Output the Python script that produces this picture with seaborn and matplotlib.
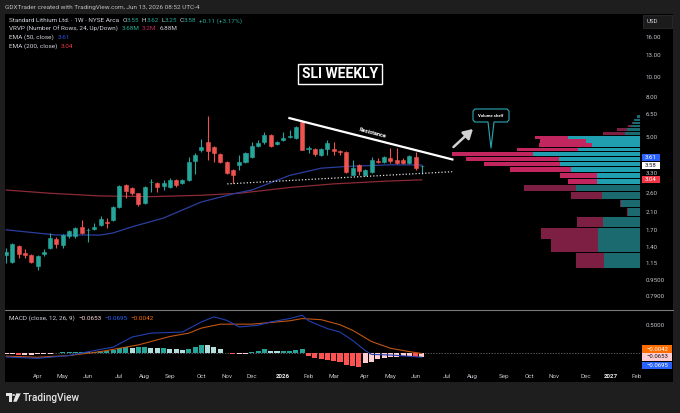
import numpy as np
import pandas as pd
import matplotlib
matplotlib.use("Agg")
import matplotlib.pyplot as plt
from matplotlib.patches import Rectangle, Polygon, Circle
from matplotlib.ticker import NullLocator
import seaborn as sns

# ---------------- data ----------------
first_week = "2025-03-03"          # weekly candles, Monday of each week
opens = [1.27, 1.17, 1.41, 1.30, 1.27, 1.12, 1.28, 1.38, 1.53, 1.42, 1.58, 1.58, 1.76, 1.69,
         1.72, 1.80, 1.86, 1.91, 2.22, 2.86, 2.76, 2.60, 2.32, 2.95, 2.93, 2.83, 2.79, 3.04,
         2.93, 3.04, 3.79, 4.31, 4.72, 4.46, 4.11, 3.75, 3.42, 3.62, 3.75, 3.97, 4.51, 4.72,
         5.12, 4.61, 4.83, 5.00, 4.94, 5.95, 4.34, 4.36, 4.07, 4.36, 4.36, 4.26, 4.21, 3.22,
         3.62, 3.22, 3.34, 3.79, 3.75, 3.93, 3.84, 3.84, 3.71, 3.97, 3.55]
highs = [1.38, 1.46, 1.43, 1.36, 1.29, 1.27, 1.36, 1.64, 1.56, 1.62, 1.70, 1.76, 1.91, 1.74,
         1.84, 1.99, 1.95, 2.25, 2.86, 2.90, 2.80, 2.62, 2.82, 3.08, 2.95, 3.04, 3.10, 3.08,
         3.08, 3.97, 4.15, 4.89, 6.38, 4.50, 4.16, 3.79, 3.46, 4.05, 4.21, 4.72, 4.83, 5.30,
         5.15, 4.80, 5.30, 5.43, 5.70, 6.00, 4.50, 4.40, 4.40, 4.83, 4.72, 4.30, 4.25, 3.84,
         3.66, 3.46, 3.97, 3.93, 4.02, 4.41, 4.41, 3.90, 4.07, 4.21, 3.62]
lows = [1.16, 1.15, 1.22, 1.22, 1.15, 1.07, 1.26, 1.36, 1.38, 1.38, 1.55, 1.55, 1.62, 1.48,
        1.70, 1.78, 1.74, 1.89, 2.20, 2.46, 2.55, 2.24, 2.30, 2.64, 2.64, 2.70, 2.76, 2.80,
        2.88, 3.00, 3.26, 4.20, 3.84, 3.75, 3.70, 3.26, 2.93, 3.42, 3.70, 3.93, 4.46, 4.60,
        4.46, 4.56, 4.80, 4.95, 4.90, 4.28, 4.16, 4.02, 4.02, 4.07, 4.07, 4.07, 3.30, 3.20,
        3.22, 3.18, 3.30, 3.71, 3.70, 3.71, 3.66, 3.66, 3.66, 3.42, 3.25]
closes = [1.31, 1.44, 1.28, 1.27, 1.17, 1.25, 1.31, 1.55, 1.44, 1.60, 1.68, 1.74, 1.64, 1.70,
          1.76, 1.93, 1.83, 2.22, 2.83, 2.66, 2.60, 2.29, 2.79, 2.97, 2.79, 2.93, 3.04, 2.86,
          3.04, 3.75, 4.07, 4.46, 4.26, 4.16, 3.75, 3.30, 3.22, 3.75, 4.16, 4.51, 4.67, 5.12,
          4.51, 4.72, 4.94, 5.06, 5.62, 4.31, 4.38, 4.11, 4.36, 4.67, 4.26, 4.21, 3.34, 3.50,
          3.38, 3.42, 3.84, 3.75, 3.97, 3.79, 3.71, 3.71, 4.02, 3.47, 3.58]

ema50_week = [0, 8, 15, 17, 20, 25, 31, 36, 39, 45, 50, 54, 61, 66]
ema50_value = [1.70, 1.60, 1.60, 1.64, 1.76, 1.95, 2.35, 2.58, 2.70, 3.20, 3.48, 3.55, 3.62, 3.61]
ema200_week = [0, 7, 15, 23, 31, 37, 45, 52, 60, 66]
ema200_value = [2.70, 2.60, 2.52, 2.50, 2.54, 2.60, 2.78, 2.90, 2.99, 3.04]

# Visible-range volume profile, 24 rows (relative volume)
profile_low, profile_high = 1.08, 6.456
up_volume = [35.7, 42.3, 41.7, 37.3, 12.3, 19.0, 37.7, 64.3, 43.3, 43.3, 69.0, 80.0,
             80.7, 106.7, 61.7, 48.3, 54.0, 72.3, 15.0, 13.3, 9.3, 7.3, 5.7, 3.0]
down_volume = [28.6, 46.7, 57.6, 25.4, 0.7, 1.0, 31.3, 51.7, 29.0, 36.7, 61.0, 76.0,
               93.3, 81.6, 61.0, 52.4, 46.0, 32.7, 21.7, 10.0, 2.4, 1.0, 0.0, 0.0]
value_area_rows = (8, 17)

# MACD (12, 26, 9)
macd_hist = [-0.02, -0.02, -0.03, -0.03, -0.03, -0.02, -0.02, -0.01,
             0.01, 0.02, 0.02, 0.03, 0.03, 0.03, 0.03, 0.04, 0.05, 0.06,
             0.09, 0.11, 0.10, 0.11, 0.11, 0.10, 0.09, 0.09, 0.08, 0.07, 0.06,
             0.08, 0.12, 0.15, 0.14, 0.12, 0.08, 0.01,
             -0.02, -0.02, -0.01,
             0.02, 0.04, 0.07, 0.05, 0.04, 0.04, 0.05, 0.06, 0.07,
             -0.05, -0.09, -0.11, -0.12, -0.13, -0.15, -0.21, -0.23, -0.24,
             -0.18, -0.15, -0.11, -0.09, -0.07, -0.06, -0.05, -0.05, -0.07, -0.0653]
macd_week = [0, 5, 10, 15, 17, 19, 20, 23, 28, 31, 33, 35, 37, 40, 42, 45, 47, 48,
             51, 53, 55, 57, 58, 61, 66]
macd_value = [-0.066, -0.09, -0.04, 0.07, 0.11, 0.23, 0.29, 0.36, 0.38, 0.56, 0.65, 0.59,
              0.47, 0.50, 0.56, 0.62, 0.68, 0.58, 0.44, 0.38, 0.23, 0.05, -0.02, -0.03, -0.0695]
signal_week = [0, 5, 10, 15, 21, 26, 29, 31, 34, 39, 42, 45, 47, 50, 53, 55, 58, 61, 64, 66]
signal_value = [-0.05, -0.07, -0.04, 0.03, 0.15, 0.30, 0.36, 0.45, 0.52, 0.52, 0.55, 0.58,
                0.62, 0.60, 0.51, 0.41, 0.21, 0.09, 0.03, -0.0042]

price_ticks = [16, 13, 10, 8, 6.5, 5, 4, 3.3, 2.6, 2.1, 1.7, 1.4, 1.15, 0.95, 0.79]

# user drawings (week index, price)
resistance_weeks, resistance_prices = [44.8, 71.0], [6.25, 3.84]
support_weeks, support_prices = [35.1, 70.8], [2.90, 3.34]
arrow_weeks, arrow_prices = [71.0, 74.1], [4.45, 5.49]

# ---------------- style ----------------
sns.set_theme(style="dark")
plt.rcParams["font.family"] = ["Roboto", "DejaVu Sans"]

UP, DN = "#26a69a", "#ef5350"
TXT = "#d1d4dc"
AX_TXT = "#c3c6ce"
FS = 4.6

W, H = 680, 413
fig = plt.figure(figsize=(W / 100, H / 100), dpi=100, facecolor="#1e1e1e")


def fx(x):
    return x / W


def fy(y):
    return 1 - y / H


fig.add_artist(Rectangle((fx(5), fy(382)), (673 - 5) / W, (382 - 14) / H,
                         transform=fig.transFigure, facecolor="black",
                         edgecolor="none", zorder=-1))

n = len(opens)
weeks = np.arange(n)
XL = (-0.16, 100.6)
YL = (0.677, 20.9)

ax = fig.add_axes([fx(5), fy(309), 635 / W, 295 / H])
axm = fig.add_axes([fx(5), fy(370), 635 / W, 59 / H])
for a in (ax, axm):
    a.set_facecolor("none")
    a.grid(False)
    for s in a.spines.values():
        s.set_visible(False)

# ---- candles ----
o, hi, lo, c = map(np.array, (opens, highs, lows, closes))
col = np.where(c >= o, UP, DN)
ax.set_yscale("log")
ax.vlines(weeks, lo, hi, colors=col, lw=0.8, zorder=3)
ax.bar(weeks, np.abs(c - o), bottom=np.minimum(o, c), width=0.64, color=col,
       edgecolor=col, linewidth=0.4, zorder=4)

# ---- EMAs ----
sns.lineplot(x=ema200_week, y=ema200_value, ax=ax, color="#8c2a36", lw=0.9, zorder=2)
sns.lineplot(x=ema50_week, y=ema50_value, ax=ax, color="#2c3f9e", lw=0.9, zorder=2)

# ---- drawings ----
ax.plot(support_weeks, support_prices, color="#e0e0e0", lw=0.9, ls=(0, (1, 1.6)), zorder=5)
ax.plot(resistance_weeks, resistance_prices, color="white", lw=1.6, zorder=5,
        solid_capstyle="butt")
ax.text(58.1, 5.22, "Resistance", rotation=-14.5, rotation_mode="anchor", ha="center",
        va="center", fontsize=4.1, fontweight="bold", color="white", zorder=6)
ax.annotate("", xy=(arrow_weeks[1], arrow_prices[1]), xytext=(arrow_weeks[0], arrow_prices[0]),
            arrowprops=dict(arrowstyle="-|>,head_length=0.55,head_width=0.32",
                            color="#d2d2d2", lw=1.8, shrinkA=0, shrinkB=0,
                            mutation_scale=10), zorder=6)

# ---- volume profile ----
ax2 = ax.twiny()
ax2.set_facecolor("none")
ax2.grid(False)
for s in ax2.spines.values():
    s.set_visible(False)
upv = np.array(up_volume)
tot = upv + np.array(down_volume)
edges = np.linspace(profile_low, profile_high, len(upv) + 1)
b0 = edges[:-1] * np.exp(0.45 / 86)
b1 = edges[1:] * np.exp(-0.45 / 86)
rows = np.arange(len(upv))
inva = (rows >= value_area_rows[0]) & (rows <= value_area_rows[1])
pink = np.where(inva, "#c2265e", "#7c1f43")
teal = np.where(inva, "#1f9fb0", "#1a6a70")
ax2.barh(b0, tot, height=b1 - b0, align="edge", color=pink, linewidth=0)
ax2.barh(b0, upv, height=b1 - b0, align="edge", color=teal, linewidth=0)
ax2.set_xlim(tot.max() / 0.2966, 0)
ax2.xaxis.set_visible(False)

ax.set_xlim(*XL)
ax.set_ylim(*YL)
ax.set_xticks([])
ax.yaxis.tick_right()
ax.yaxis.set_minor_locator(NullLocator())
ax.set_yticks(price_ticks)
ax.set_yticklabels([f"{t:.2f}" if t >= 1 else f"{t:.4f}" for t in price_ticks])
ax.tick_params(axis="y", length=0, pad=4.3, labelsize=4.4, labelcolor=AX_TXT)

# ---- MACD ----
hist = np.array(macd_hist)
prev = np.r_[hist[0], hist[:-1]]
hc = np.where(hist >= 0, np.where(hist >= prev, "#26a69a", "#b2dfdb"),
              np.where(hist < prev, "#ff5252", "#ffcdd2"))
axm.axhline(0, color="#787b86", lw=0.5, ls=(0, (2, 2)), zorder=1)
axm.bar(weeks, hist, width=0.8, color=hc, linewidth=0, zorder=2)
sns.lineplot(x=signal_week, y=signal_value, ax=axm, color="#c05514", lw=0.8, zorder=3)
sns.lineplot(x=macd_week, y=macd_value, ax=axm, color="#2340b0", lw=0.8, zorder=3)
axm.set_xlim(*XL)
axm.set_ylim(-0.298, 0.755)
axm.yaxis.tick_right()
axm.set_yticks([0.5])
axm.set_yticklabels(["0.5000"])
axm.tick_params(axis="y", length=0, pad=4.3, labelsize=4.4, labelcolor=AX_TXT)
axm.set_ylabel("")

# time scale labels: first weekly bar of each month
all_dates = pd.date_range(first_week, periods=101, freq="7D")
tk, tl = [], []
for w in range(1, 101):
    if all_dates[w].month != all_dates[w - 1].month:
        tk.append(w)
        tl.append(str(all_dates[w].year) if all_dates[w].month == 1 else all_dates[w].strftime("%b"))
axm.set_xticks(tk)
axm.set_xticklabels(tl)
axm.tick_params(axis="x", length=0, pad=2.6, labelsize=4.5, labelcolor=AX_TXT)
for lab in axm.get_xticklabels():
    if lab.get_text().isdigit():
        lab.set_fontweight("bold")
        lab.set_color("#e8e8e8")

# separator between panes
fig.add_artist(plt.Line2D([fx(5), fx(673)], [fy(310), fy(310)], transform=fig.transFigure,
                          color="#7a7a7a", lw=0.8, zorder=3))


# ---- badges on the scales ----
def badge(axis, val, text, fc, tc, dy=0.0, w=18):
    yd = axis.transData.transform((0, val))[1]
    ypx = H - yd + dy
    fig.add_artist(Rectangle((fx(642), fy(ypx + 3.6)), w / W, 7.2 / H,
                             transform=fig.transFigure, facecolor=fc, edgecolor="none", zorder=5))
    fig.text(fx(642 + w / 2), fy(ypx), text, ha="center", va="center", fontsize=4.3,
             color=tc, zorder=6)


badge(ax, ema50_value[-1], f"{ema50_value[-1]:.2f}", "#2962ff", "white", dy=-7.8)
badge(ax, closes[-1], f"{closes[-1]:.2f}", "white", "#131722", dy=-0.4)
badge(ax, ema200_value[-1], f"{ema200_value[-1]:.2f}", "#f23645", "white")
badge(axm, signal_value[-1], f"\u2212{abs(signal_value[-1]):.4f}", "#ff6d00", "white", dy=-4.5, w=30)
badge(axm, macd_hist[-1], f"\u2212{abs(macd_hist[-1]):.4f}", "#ffcdd2", "#131722", dy=0.0, w=30)
badge(axm, macd_value[-1], f"\u2212{abs(macd_value[-1]):.4f}", "#2962ff", "white", dy=8.0, w=30)

# USD box
fig.add_artist(Rectangle((fx(643), fy(28)), 29 / W, 13 / H, transform=fig.transFigure,
                         facecolor="#1b1b1b", edgecolor="#2c2c2c", lw=0.6, zorder=5))
fig.text(fx(647), fy(21.5), "USD", ha="left", va="center", fontsize=4.4, color=TXT, zorder=6)

# ---- annotations (boxes) ----
fig.add_artist(Rectangle((fx(298), fy(84.3)), 84 / W, 20.3 / H, transform=fig.transFigure,
                         facecolor="black", edgecolor="white", lw=1.0, zorder=5))
fig.text(fx(340), fy(74.4), "SLI WEEKLY", ha="center", va="center", fontsize=10,
         fontweight="bold", color="white", zorder=6)

call = [(475, 109), (507, 109), (509, 111), (509, 120), (507, 122), (494, 122), (491, 148),
        (488, 122), (475, 122), (473, 120), (473, 111)]
fig.add_artist(Polygon([(fx(a), fy(b)) for a, b in call], closed=True, transform=fig.transFigure,
                       facecolor="black", edgecolor="#2aa9b5", lw=0.8, joinstyle="round", zorder=5))
fig.text(fx(491), fy(115.6), "Volume shelf", ha="center", va="center", fontsize=3.1,
         fontweight="bold", color="white", zorder=6)

# ---- header / legends ----
fig.text(fx(5), fy(7), "GDXTrader created with TradingView.com, Jun 13, 2026 08:52 UTC-4",
         ha="left", va="center", fontsize=4.6, color="#bdbdbd")

rend = fig.canvas.get_renderer()


def runs(x, y, parts, size=FS):
    for s, colr, gap in parts:
        t = fig.text(fx(x), fy(y), s, color=colr, fontsize=size, ha="left", va="center", zorder=6)
        x = t.get_window_extent(renderer=rend).x1 + gap


chg = closes[-1] - closes[-2]
runs(9, 21, [("Standard Lithium Ltd. \u00b7 1W \u00b7 NYSE Arca", TXT, 3.5),
             ("O", TXT, 0.3), (f"{opens[-1]:.2f}", UP, 2.2),
             ("H", TXT, 0.3), (f"{highs[-1]:.2f}", UP, 2.2),
             ("L", TXT, 0.3), (f"{lows[-1]:.2f}", UP, 2.2),
             ("C", TXT, 0.3), (f"{closes[-1]:.2f}", UP, 2.8),
             (f"+{chg:.2f} (+{chg / closes[-2] * 100:.2f}%)", UP, 0)])
runs(9, 29, [("VRVP (Number Of Rows, 24, Up/Down)", TXT, 3.5), ("3.68M", "#22ab94", 2.8),
             ("3.2M", "#c2265e", 2.8), ("6.88M", TXT, 0)])
runs(9, 37.5, [("EMA (50, close)", TXT, 3.5), (f"{ema50_value[-1]:.2f}", "#2f55e0", 0)])
runs(9, 46, [("EMA (200, close)", TXT, 3.5), (f"{ema200_value[-1]:.2f}", "#f23645", 0)])
runs(9, 318, [("MACD (close, 12, 26, 9)", TXT, 3.5),
              (f"\u2212{abs(macd_hist[-1]):.4f}", "#ffd6da", 2.8),
              (f"\u2212{abs(macd_value[-1]):.4f}", "#2962ff", 2.8),
              (f"\u2212{abs(signal_value[-1]):.4f}", "#ff6d00", 0)])

# ---- TradingView logo ----
LOGO = "#e6e6e6"
fig.add_artist(Polygon([(fx(a), fy(b)) for a, b in
                        [(6, 393.4), (11.6, 393.4), (11.6, 401.7), (9.0, 401.7), (9.0, 396.4), (6, 396.4)]],
                       closed=True, transform=fig.transFigure, facecolor=LOGO, edgecolor="none"))
fig.add_artist(Circle((fx(13.6), fy(395.0)), 1.45 / W, transform=fig.transFigure,
                      facecolor=LOGO, edgecolor="none"))
fig.add_artist(Polygon([(fx(a), fy(b)) for a, b in
                        [(16.2, 393.4), (20.8, 393.4), (16.6, 401.7), (13.2, 401.7)]],
                       closed=True, transform=fig.transFigure, facecolor=LOGO, edgecolor="none"))
fig.text(fx(23), fy(397.6), "TradingView", ha="left", va="center", fontsize=7.3,
         fontweight="medium", color=LOGO)

fig.savefig("out.png", dpi=100, facecolor=fig.get_facecolor())
